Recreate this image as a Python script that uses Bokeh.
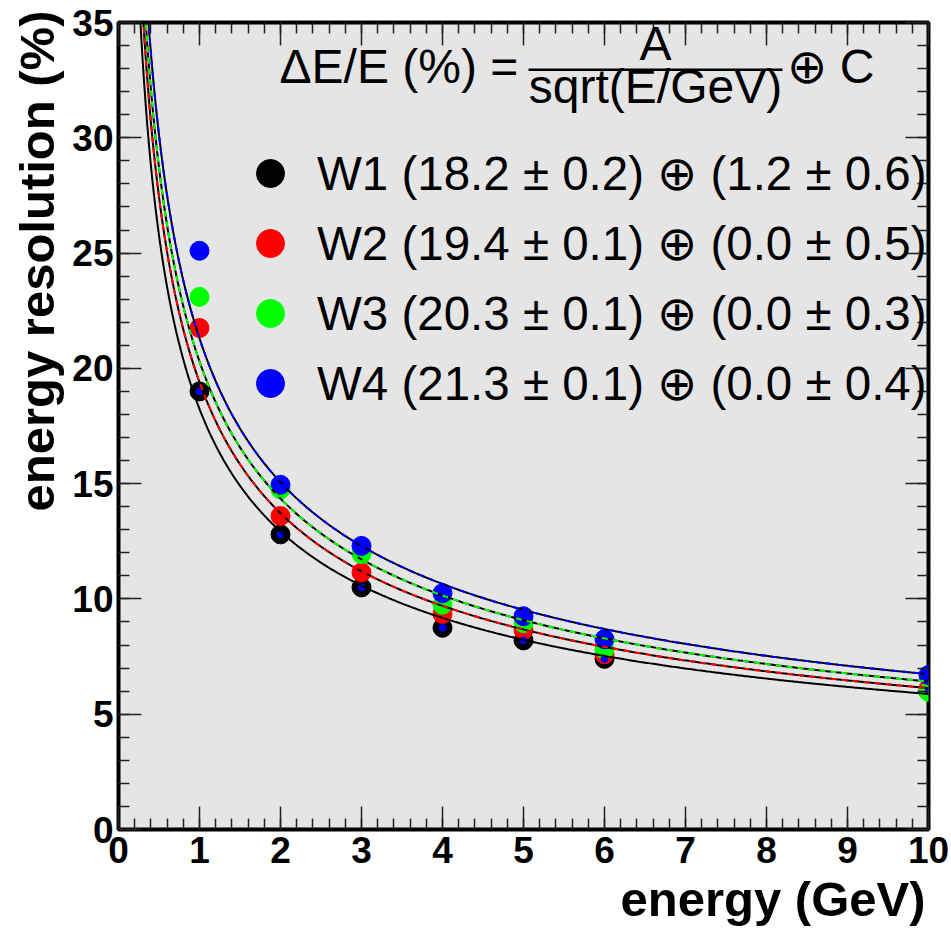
import numpy as np
from bokeh.plotting import figure
from bokeh.models import (Label, Legend, LegendItem, LinearAxis, SingleIntervalTicker,
                          BoxAnnotation, Range1d, Title)
from bokeh.embed import file_html
from bokeh.resources import INLINE

# ---------------- data ----------------
energy = [1, 2, 3, 4, 5, 6, 10]
res_w1 = [19.0, 12.8, 10.5, 8.75, 8.2, 7.4, 6.0]
res_w2 = [21.75, 13.6, 11.15, 9.35, 8.65, 7.6, 6.1]
res_w3 = [23.1, 14.75, 11.95, 9.75, 8.95, 7.8, 5.97]
res_w4 = [25.1, 14.95, 12.3, 10.25, 9.25, 8.25, 6.7]

names = ["W1", "W2", "W3", "W4"]
fit_A = [18.2, 19.4, 20.3, 21.3]
fit_A_err = [0.2, 0.1, 0.1, 0.1]
fit_C = [1.2, 0.0, 0.0, 0.0]
fit_C_err = [0.6, 0.5, 0.3, 0.4]
colors = ["#000000", "#ff0000", "#00ff00", "#0000ff"]
series = [res_w1, res_w2, res_w3, res_w4]

x_title = "energy (GeV)"
y_title = "energy resolution (%)"

# ---------------- figure ----------------
FL, FT, FW, FH = 118, 22, 810, 807
p = figure(frame_width=FW, frame_height=FH,
           x_range=Range1d(0, 10), y_range=Range1d(0, 35),
           output_backend="svg", toolbar_location=None,
           min_border_left=FL, min_border_right=951 - FL - FW,
           min_border_top=FT, min_border_bottom=936 - FT - FH)
p.background_fill_color = "#e5e5e5"
p.border_fill_color = "white"
p.outline_line_color = "black"
p.outline_line_width = 4
p.xgrid.visible = False
p.ygrid.visible = False

def px_x(px):
    return (px - FL) / (FW / 10.0)

def px_y(py):
    return (FT + FH - py) / (FH / 35.0)

def style_axis(ax, interval, show_labels):
    ax.ticker = SingleIntervalTicker(interval=interval, num_minor_ticks=5)
    ax.axis_line_color = None
    ax.major_tick_in = 23
    ax.major_tick_out = 0
    ax.minor_tick_in = 11
    ax.minor_tick_out = 0
    ax.major_tick_line_color = "#222222"
    ax.minor_tick_line_color = "#222222"
    ax.major_tick_line_width = 1.5
    ax.minor_tick_line_width = 1.5
    if show_labels:
        ax.major_label_text_font = "Liberation Sans"
        ax.major_label_text_font_style = "bold"
        ax.major_label_text_font_size = "37px"
        ax.major_label_text_color = "black"
    else:
        ax.major_label_text_font_size = "0px"
        ax.major_label_text_color = None

style_axis(p.xaxis[0], 1, True)
style_axis(p.yaxis[0], 5, True)
p.xaxis[0].major_label_standoff = 7
p.yaxis[0].major_label_standoff = 5

top_ax = LinearAxis()
right_ax = LinearAxis()
style_axis(top_ax, 1, False)
style_axis(right_ax, 5, False)
p.add_layout(top_ax, "above")
p.add_layout(right_ax, "right")

# ---------------- axis titles ----------------
tkw = dict(text_font="Liberation Sans", text_font_style="bold", text_font_size="49px",
           text_color="black", align="right")
p.add_layout(Title(text=x_title, offset=3, standoff=8, text_line_height=0.85, **tkw), "below")
p.add_layout(Title(text=y_title, offset=-12, standoff=12, **tkw), "left")

# ---------------- markers ----------------
marker_renderers = []
for ys, c in zip(series, colors):
    r = p.scatter(energy, ys, size=19, marker="circle", fill_color=c, line_color=c)
    marker_renderers.append(r)
p.scatter(energy, res_w1, size=7, marker="circle", fill_color="#0000ff", line_color="#0000ff")

# ---------------- fit curves ----------------
xf = np.linspace(0.2, 10, 500)
for i, (A, C, c) in enumerate(zip(fit_A, fit_C, colors)):
    yf = np.sqrt(A ** 2 / xf + C ** 2)
    p.line(xf, yf, line_color="black", line_width=2)
    if i > 0:
        p.line(xf, yf, line_color=c, line_width=2, line_dash="6 5")

# ---------------- legend ----------------
items = []
for n, a, ae, cc, ce, r in zip(names, fit_A, fit_A_err, fit_C, fit_C_err, marker_renderers):
    lbl = f"{n} ({a:.1f} \u00b1 {ae:.1f}) \u2295 ({cc:.1f} \u00b1 {ce:.1f})"
    items.append(LegendItem(label=lbl, renderers=[r]))
legend = Legend(items=items, location=(117, 411), glyph_width=70, glyph_height=70,
                label_standoff=12, spacing=0, padding=0, margin=0,
                border_line_color=None, background_fill_alpha=0,
                label_text_font="Liberation Sans", label_text_font_size="47.5px",
                label_text_baseline="middle", label_text_color="black")
p.add_layout(legend)

# ---------------- formula ----------------
fkw = dict(text_font="Liberation Sans", text_font_size="48px", text_color="black",
           text_baseline="alphabetic")
p.add_layout(Label(x=px_x(279), y=px_y(66), text="\u0394E/E (%) =", text_align="left", **fkw))
p.add_layout(Label(x=px_x(655), y=px_y(43), text="A", text_align="center", **fkw))
p.add_layout(Label(x=px_x(655), y=px_y(86), text="sqrt(E/GeV)", text_align="center", **fkw))
p.add_layout(BoxAnnotation(left=px_x(528), right=px_x(782), top=px_y(68), bottom=px_y(70.5),
                           fill_color="black", fill_alpha=1, line_color=None))
p.add_layout(Label(x=px_x(786), y=px_y(66), text="\u2295 C", text_align="left", **fkw))

open("out.html", "w").write(file_html(p, INLINE))
